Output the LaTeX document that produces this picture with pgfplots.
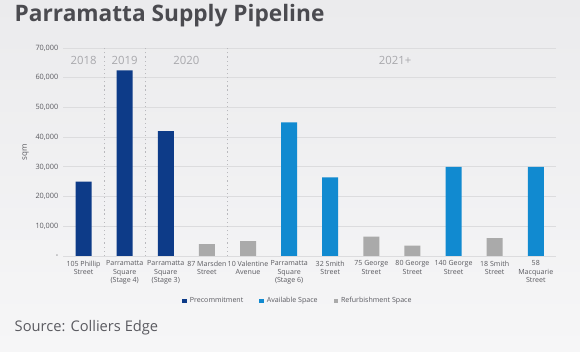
\documentclass[border=0pt]{standalone}
\usepackage{pgfplots}
\pgfplotsset{compat=1.18}
\usepackage{fontspec}
\setmainfont{Open Sans}
\definecolor{navy}{HTML}{0D3B88}
\definecolor{sky}{HTML}{118AD0}
\definecolor{refgray}{HTML}{AAAAAA}
\definecolor{bgtop}{HTML}{EBEBED}
\definecolor{bgbot}{HTML}{F6F6F7}
\definecolor{titlec}{HTML}{4B4B50}
\definecolor{labc}{HTML}{5A5A60}
\definecolor{yearc}{HTML}{A8A8AC}
\definecolor{gridc}{HTML}{DCDCDE}
\begin{document}
\begin{tikzpicture}[x=0.75pt,y=0.75pt]
\shade[top color=bgtop,bottom color=bgbot] (0,0) rectangle (580,352);
\useasboundingbox (0,0) rectangle (580,352);
\node[anchor=west,text=titlec,font=\fontsize{17}{20}\selectfont\bfseries] at (10,336) {Parramatta Supply Pipeline};
\node[anchor=west,text=labc,font=\fontsize{11}{13}\selectfont] at (10,24) {Source: Colliers Edge};
\begin{axis}[
  at={(47.25pt,72pt)}, anchor=south west,
  scale only axis, width=370pt, height=156pt,
  xmin=-0.5, xmax=11.5, ymin=0, ymax=70000,
  axis line style={draw=none},
  ymajorgrids, grid style={gridc, line width=0.6pt},
  scaled y ticks=false,
  ytick={0,10000,20000,30000,40000,50000,60000,70000},
  yticklabels={-,{10,000},{20,000},{30,000},{40,000},{50,000},{60,000},{70,000}},
  yticklabel style={font=\fontsize{5.5}{6}\selectfont, text=labc},
  major tick length=0pt,
  ylabel={sqm}, ylabel style={font=\fontsize{6}{7}\selectfont, text=labc, at={(-0.06,0.5)}},
  xtick={0,...,11},
  xticklabels={{105 Phillip\\Street},{Parramatta\\Square\\(Stage 4)},{Parramatta\\Square\\(Stage 3)},{87 Marsden\\Street},{10 Valentine\\Avenue},{Parramatta\\Square\\(Stage 6)},{32 Smith\\Street},{75 George\\Street},{80 George\\Street},{140 George\\Street},{18 Smith\\Street},{58\\Macquarie\\Street}},
  xticklabel style={font=\fontsize{5.3}{6.3}\selectfont, text=labc, align=center},
  ybar, bar width=12pt, bar shift=0pt,
  legend columns=3,
  legend style={at={(0.477,-0.216)}, anchor=center, draw=none, fill=none,
    font=\fontsize{5.3}{6}\selectfont, text=labc,
    /tikz/every even column/.append style={column sep=10pt}},
  legend image code/.code={\fill[#1] (0pt,-1.8pt) rectangle (3.6pt,1.8pt);},
  clip=false,
]
\addplot[fill=navy, draw=none] coordinates {(0,25000) (1,62500) (2,42000)};
\addlegendentry{Precommitment}
\addplot[fill=sky, draw=none] coordinates {(5,45000) (6,26500) (9,30000) (11,30000)};
\addlegendentry{Available Space}
\addplot[fill=refgray, draw=none] coordinates {(3,4000) (4,5000) (7,6500) (8,3500) (10,6000)};
\addlegendentry{Refurbishment Space}
\draw[yearc!80, line width=0.9pt, dash pattern=on 0.9pt off 2.2pt] (axis cs:0.5,0) -- (axis cs:0.5,70000);
\draw[yearc!80, line width=0.9pt, dash pattern=on 0.9pt off 2.2pt] (axis cs:1.5,0) -- (axis cs:1.5,70000);
\draw[yearc!80, line width=0.9pt, dash pattern=on 0.9pt off 2.2pt] (axis cs:3.5,0) -- (axis cs:3.5,70000);
\node[text=yearc, font=\fontsize{8.5}{10}\selectfont] at (axis cs:0,65900) {2018};
\node[text=yearc, font=\fontsize{8.5}{10}\selectfont] at (axis cs:1,65900) {2019};
\node[text=yearc, font=\fontsize{8.5}{10}\selectfont] at (axis cs:2.5,65900) {2020};
\node[text=yearc, font=\fontsize{8.5}{10}\selectfont] at (axis cs:7.58,65900) {2021+};
\end{axis}
\end{tikzpicture}
\end{document}
